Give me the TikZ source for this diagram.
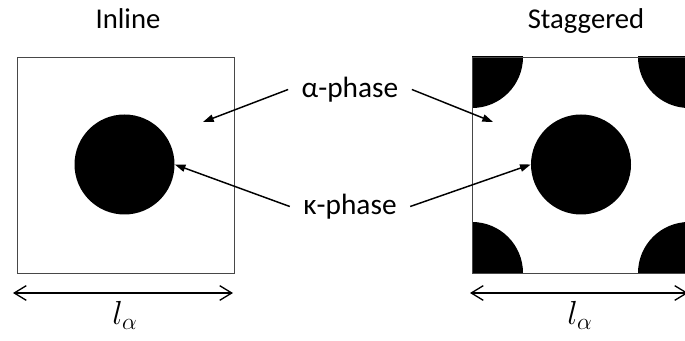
\documentclass[tikz,border=0pt]{standalone}
\usepackage{fix-cm}
\usepackage{fontspec}
\setmainfont{Carlito}
\usetikzlibrary{arrows.meta}
\begin{document}
\begin{tikzpicture}[x=0.75pt,y=-0.75pt,
  lbl/.style={font=\fontsize{22}{25}\selectfont, inner xsep=10pt, inner ysep=0pt},
  title/.style={font=\fontsize{21.5}{25}\selectfont, anchor=base},
  cell/.style={draw=black!72, line width=0.7pt, inner sep=0pt},
  particle/.style={circle, fill=black, minimum size=75pt, inner sep=0pt},
  pointer/.style={-{Triangle[length=8pt,width=5.5pt]}, line width=1.1pt},
  dimarrow/.style={{Straight Barb[length=9pt,width=11pt]}-{Straight Barb[length=9pt,width=11pt]}, line width=1pt},
  len/.style={anchor=base, font=\fontsize{25}{25}\selectfont}]
\useasboundingbox (0,0) rectangle (685,341);
\clip (0,0) rectangle (685,341);
% titles
\node[title] (t1) at (128,29) {Inline};
\node[title] (t2) at (586,29) {Staggered};
% inline cell
\node[cell, minimum width=162.75pt, minimum height=162pt] (boxA) at (125.5,165) {};
\node[particle] (c1) at (124.5,164.5) {};
% staggered cell
\begin{scope}
  \clip (472,57) rectangle (689,273);
  \fill (472,57) circle[radius=38.25pt];
  \fill (689,57) circle[radius=38.25pt];
  \fill (472,273) circle[radius=38.25pt];
  \fill (689,273) circle[radius=38.25pt];
\end{scope}
\node[cell, minimum width=162.75pt, minimum height=162pt] (boxB) at (580.5,165) {};
\node[particle] (c2) at (581,164.5) {};
% labels
\node[lbl] (alpha) at (350,89.5) {α-phase};
\node[lbl] (kappa) at (350,206.5) {κ-phase};
\coordinate (pA) at (203,122);
\coordinate (pB) at (493,122);
\draw[pointer] (alpha.west) -- (pA);
\draw[pointer] (alpha.east) -- (pB);
\draw[pointer] (kappa.west) -- (c1.east);
\draw[pointer] (kappa.east) -- (c2.west);
% dimension arrows
\coordinate (dA1) at (13,293);
\coordinate (dA2) at (233,293);
\coordinate (dB1) at (470,293);
\coordinate (dB2) at (688,293);
\draw[dimarrow] (dA1) -- (dA2);
\draw[dimarrow] (dB1) -- (dB2);
\node[len] (la) at (125,325) {$l_\alpha$};
\node[len] (lb) at (580,325) {$l_\alpha$};
\end{tikzpicture}
\end{document}
